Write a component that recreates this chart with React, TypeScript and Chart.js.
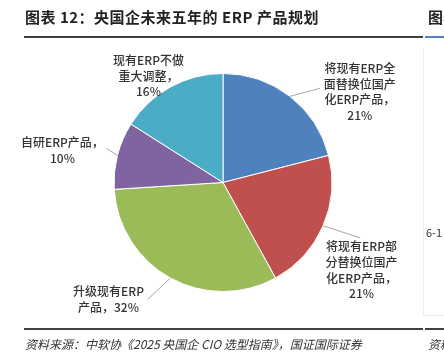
import React, { useEffect, useRef } from "react";
import { Chart, registerables } from "chart.js";

Chart.register(...registerables);

const categories = [
  "将现有ERP全面替换位国产化ERP产品",
  "将现有ERP部分替换位国产化ERP产品",
  "升级现有ERP产品",
  "自研ERP产品",
  "现有ERP不做重大调整",
];
const values = [21, 21, 32, 10, 16];
const labelLines = [
  ["将现有ERP全", "面替换位国产", "化ERP产品，", "21%"],
  ["将现有ERP部", "分替换位国产", "化ERP产品，", "21%"],
  ["升级现有ERP", "产品，32%"],
  ["自研ERP产品，", "10%"],
  ["现有ERP不做", "重大调整，", "16%"],
];
const colors = ["#4f81bd", "#c0504d", "#9bbb59", "#8064a2", "#4bacc6"];

// label layout relative to slice anchor (outer edge at mid-angle)
const leaderEnds: (number[] | null)[] = [[30, -8], [37, 12], [-23, 21.5], [-11, -7], null];
const textOffsets = [[70, -28], [38.5, 21], [-62, 13.5], [-55, -13], [-22, -26.5]];

const labelPlugin = {
  id: "sliceLabels",
  afterDraw(chart: any) {
    const ctx = chart.ctx;
    const meta = chart.getDatasetMeta(0);
    ctx.save();
    meta.data.forEach((arc: any, i: number) => {
      const p = arc.getProps(["x", "y", "startAngle", "endAngle", "outerRadius"], true);
      const mid = (p.startAngle + p.endAngle) / 2;
      const ax = p.x + Math.cos(mid) * p.outerRadius;
      const ay = p.y + Math.sin(mid) * p.outerRadius;
      const le = leaderEnds[i];
      if (le) {
        ctx.strokeStyle = "#a6a6a6";
        ctx.lineWidth = 1;
        ctx.beginPath();
        ctx.moveTo(ax, ay);
        ctx.lineTo(ax + le[0], ay + le[1]);
        ctx.stroke();
      }
      const to = textOffsets[i];
      ctx.fillStyle = "#333333";
      ctx.font = '500 12px "Noto Sans CJK SC", sans-serif';
      ctx.textAlign = "center";
      ctx.textBaseline = "middle";
      labelLines[i].forEach((t, k) => {
        ctx.fillText(t, ax + to[0], ay + to[1] + k * 15.7);
      });
    });
    ctx.restore();
  },
};

export default function App() {
  const ref = useRef<HTMLCanvasElement>(null);
  useEffect(() => {
    const chart = new Chart(ref.current!, {
      type: "pie",
      data: {
        labels: categories,
        datasets: [
          {
            data: values,
            backgroundColor: colors,
            borderColor: "#ffffff",
            borderWidth: 1,
          },
        ],
      },
      options: {
        responsive: false,
        animation: false,
        layout: { padding: { left: 113.5, right: 111.5, top: 73, bottom: 63 } },
        plugins: { legend: { display: false }, tooltip: { enabled: false } },
      },
      plugins: [labelPlugin],
    });
    return () => chart.destroy();
  }, []);

  const font = '"Noto Sans CJK SC", sans-serif';
  return (
    <div style={{ position: "fixed", left: 0, top: 0, width: 444, height: 355, background: "#fff", overflow: "hidden", fontFamily: font }}>
      <canvas ref={ref} width={444} height={355} style={{ position: "absolute", left: 0, top: 0 }} />
      <div style={{ position: "absolute", left: 25, top: 7, fontSize: 15, fontWeight: 700, letterSpacing: 0.5, color: "#222", whiteSpace: "nowrap", lineHeight: "20px" }}>
        图表 12：央国企未来五年的 ERP 产品规划
      </div>
      <div style={{ position: "absolute", left: 428, top: 7, fontSize: 15, fontWeight: 700, color: "#222", whiteSpace: "nowrap", lineHeight: "20px" }}>
        图表
      </div>
      <div style={{ position: "absolute", left: 24, top: 36, width: 399, height: 2, background: "#404040" }} />
      <div style={{ position: "absolute", left: 425, top: 36, width: 19, height: 2, background: "#4f81bd" }} />
      <div style={{ position: "absolute", left: 423, top: 48, width: 1, height: 267, background: "#ececec" }} />
      <div style={{ position: "absolute", left: 423, top: 315, width: 21, height: 1, background: "#ececec" }} />
      <div style={{ position: "absolute", left: 426, top: 224, fontSize: 11, color: "#333", whiteSpace: "nowrap", lineHeight: "16px" }}>
        6-1
      </div>
      <div style={{ position: "absolute", left: 24, top: 328, width: 399, height: 2, background: "#404040" }} />
      <div style={{ position: "absolute", left: 425, top: 328, width: 19, height: 2, background: "#404040" }} />
      <div style={{ position: "absolute", left: 25, top: 336, fontSize: 12, fontStyle: "italic", color: "#333", whiteSpace: "nowrap", lineHeight: "16px" }}>
        资料来源：中软协《2025 央国企 CIO 选型指南》，国证国际证券
      </div>
      <div style={{ position: "absolute", left: 428, top: 336, fontSize: 12, fontStyle: "italic", color: "#333", whiteSpace: "nowrap", lineHeight: "16px" }}>
        资料
      </div>
    </div>
  );
}
